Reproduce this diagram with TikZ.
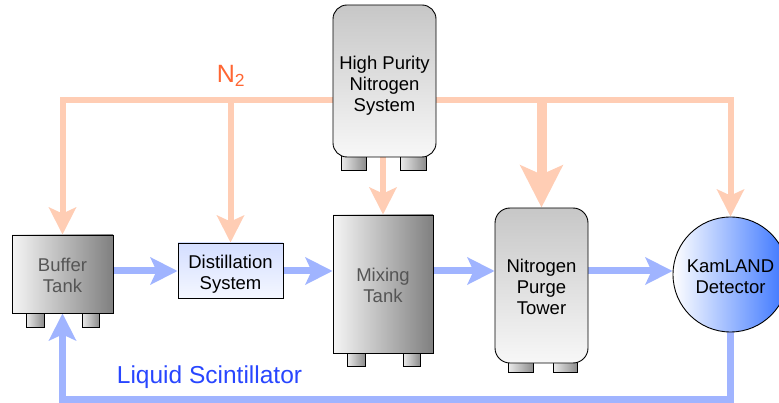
\documentclass[tikz,border=0pt]{standalone}
\usepackage{fontspec}
\setmainfont{Liberation Sans}
\usetikzlibrary{arrows.meta}
\pgfdeclarelayer{lines}
\pgfdeclarelayer{legs}
\pgfsetlayers{lines,legs,main}
\definecolor{ntwo}{RGB}{255,205,180}
\definecolor{ntwotext}{RGB}{255,102,51}
\definecolor{lqcol}{RGB}{160,180,255}
\definecolor{lqtext}{RGB}{40,70,255}
\definecolor{tanktext}{RGB}{85,85,85}
\definecolor{detblue}{RGB}{55,115,255}
\definecolor{disttop}{RGB}{212,222,255}
\definecolor{distbot}{RGB}{244,247,255}
\newcommand{\boxtext}[2]{\raisebox{#1}[\height][\depth]{\begin{tabular}{@{}c@{}}#2\end{tabular}}}
\tikzset{
  boxfont/.style={font=\fontsize{18.5}{21}\selectfont},
  gtank/.style={draw=black, line width=0.9pt, inner sep=0pt, boxfont, text=tanktext,
    left color=black!4, right color=black!50},
  rtank/.style={draw=black, line width=0.9pt, inner sep=0pt, boxfont, text=black,
    rounded corners=14pt, top color=black!22, bottom color=black!3},
  leg/.style={draw=black, line width=0.8pt, left color=black!8, right color=black!45},
  n2line/.style={draw=ntwo, line width=6pt, line join=miter},
  n2tip/.style={-{Stealth[length=27pt,width=27pt,inset=6pt]}},
  n2big/.style={draw=ntwo, line width=10pt, -{Stealth[length=42pt,width=42pt,inset=9pt]}},
  lqarrow/.style={draw=lqcol, line width=7pt, line join=miter, -{Stealth[length=27pt,width=27pt,inset=6pt]}},
}
\begin{document}
\begin{tikzpicture}[x=1pt,y=-1pt]
\useasboundingbox (0,0) rectangle (779,403);
\coordinate (top) at (0,100);
\coordinate (flow) at (0,271);
\coordinate (bot) at (0,399);

\path
  (384.5,81) node[rtank, minimum width=103pt, minimum height=152pt] (hpn) {\boxtext{-5pt}{High Purity\\Nitrogen\\System}}
  (62.5,274) node[gtank, minimum width=101pt, minimum height=78pt] (buf) {\boxtext{-3.5pt}{Buffer\\Tank}}
  (230.5,270.5) node[draw=black, line width=0.9pt, inner sep=0pt, boxfont, minimum width=105pt, minimum height=55pt,
      top color=disttop, bottom color=distbot] (dist) {\boxtext{-4.5pt}{Distillation\\System}}
  (383,284) node[gtank, minimum width=100pt, minimum height=138pt] (mix) {\boxtext{-4pt}{Mixing\\Tank}}
  (541.5,285.5) node[rtank, rounded corners=15pt, minimum width=93pt, minimum height=155pt] (tower) {\boxtext{-3.5pt}{Nitrogen\\Purge\\Tower}}
  (730.5,274.5) node[circle, draw=black, line width=0.9pt, inner sep=0pt, boxfont, minimum size=115pt,
      left color=white, right color=detblue] (det) {\boxtext{-4.5pt}{KamLAND\\Detector}};

\node[text=ntwotext, font=\fontsize{25}{29}\selectfont] (n2label) at (231,76) {N\textsubscript{2}};
\node[text=lqtext, font=\fontsize{24.5}{28}\selectfont] (lqlabel) at (209.5,377) {Liquid Scintillator};

\begin{pgfonlayer}{legs}
  \path[leg] (341,150) rectangle (366,170);
  \path[leg] (400,150) rectangle (426,170);
  \path[leg] (26,305) rectangle (44,327);
  \path[leg] (82,305) rectangle (99,327);
  \path[leg] (347,345) rectangle (365,366);
  \path[leg] (403,345) rectangle (420,366);
  \path[leg] (508,355) rectangle (533,372);
  \path[leg] (553,355) rectangle (577,372);
\end{pgfonlayer}

\begin{pgfonlayer}{lines}
  % nitrogen distribution
  \path[n2line, {Stealth[length=27pt,width=27pt,inset=6pt]}-{Stealth[length=27pt,width=27pt,inset=6pt]}]
     (buf.north) -- (buf.north |- top) -- (det.north |- top) -- (det.north);
  \path[n2line, n2tip] (dist.north |- top) -- (dist.north);
  \path[n2line, n2tip] (mix.north |- hpn.south) -- (mix.north);
  \path[n2big] (tower.north |- top) -- (tower.north);
  % liquid scintillator flow
  \path[lqarrow] (buf.east |- flow) -- (dist.west |- flow);
  \path[lqarrow] (dist.east |- flow) -- (mix.west |- flow);
  \path[lqarrow] (mix.east |- flow) -- (tower.west |- flow);
  \path[lqarrow] (tower.east |- flow) -- (det.west |- flow);
  \path[lqarrow] (det.south) -- (det.south |- bot) -- (buf.south |- bot) -- (buf.south);
\end{pgfonlayer}
\end{tikzpicture}
\end{document}
